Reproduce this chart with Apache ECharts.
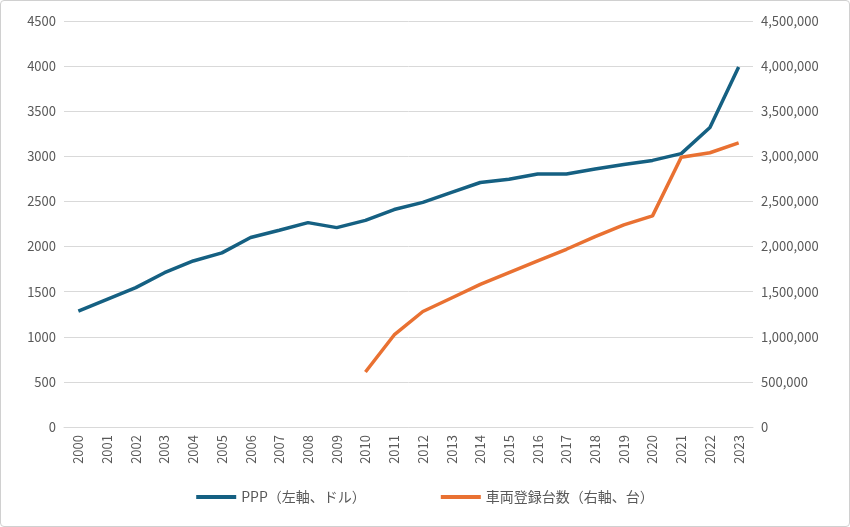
<!DOCTYPE html>
<html>
<head>
<meta charset="utf-8">
<script src="https://cdn.jsdelivr.net/npm/echarts@6/dist/echarts.min.js"></script>
<style>
html, body { margin: 0; padding: 0; background: #fff; }
#chart { width: 848px; height: 525px; border: 1px solid #d0d0d0; border-radius: 4px; }
</style>
</head>
<body>
<div id="chart"></div>
<script>
var years = ['2000','2001','2002','2003','2004','2005','2006','2007','2008','2009','2010','2011',
  '2012','2013','2014','2015','2016','2017','2018','2019','2020','2021','2022','2023'];
var ppp = [1285, 1415, 1545, 1710, 1840, 1930, 2100, 2180, 2265, 2210, 2290, 2410,
  2490, 2600, 2710, 2745, 2805, 2805, 2860, 2910, 2955, 3030, 3320, 3990];
var vehicles = [null, null, null, null, null, null, null, null, null, null, 610000, 1020000,
  1280000, 1430000, 1580000, 1710000, 1840000, 1970000, 2110000, 2240000, 2340000, 2990000, 3040000, 3150000];

var chart = echarts.init(document.getElementById('chart'));
var font = '"Noto Sans CJK JP", "Liberation Sans", sans-serif';
chart.setOption({
  textStyle: { fontFamily: font },
  grid: { left: 63, right: 96, top: 20, bottom: 99 },
  legend: {
    bottom: 17, itemGap: 75, itemWidth: 40, itemHeight: 4,
    textStyle: { color: '#595959', fontSize: 14, fontFamily: font },
    data: [
      { name: 'PPP（左軸、ドル）', icon: 'rect' },
      { name: '車両登録台数（右軸、台）', icon: 'rect' }
    ]
  },
  xAxis: {
    type: 'category', data: years, boundaryGap: true,
    axisLine: { lineStyle: { color: '#d9d9d9' } },
    axisTick: { show: false },
    axisLabel: { rotate: 90, color: '#595959', fontSize: 13, interval: 0 }
  },
  yAxis: [
    {
      type: 'value', min: 0, max: 4500, interval: 500,
      axisLabel: { color: '#595959', fontSize: 13, formatter: function (v) { return String(v); } },
      splitLine: { lineStyle: { color: '#d9d9d9' } }
    },
    {
      type: 'value', min: 0, max: 4500000, interval: 500000,
      axisLabel: {
        color: '#595959', fontSize: 13,
        formatter: function (v) { return v.toLocaleString('en-US'); }
      },
      splitLine: { show: false }
    }
  ],
  series: [
    {
      name: 'PPP（左軸、ドル）', type: 'line', data: ppp, yAxisIndex: 0,
      symbol: 'none', color: '#156082', lineStyle: { width: 3.5 }
    },
    {
      name: '車両登録台数（右軸、台）', type: 'line', data: vehicles, yAxisIndex: 1,
      symbol: 'none', color: '#e97132', lineStyle: { width: 3.5 }
    }
  ]
});
</script>
</body>
</html>
